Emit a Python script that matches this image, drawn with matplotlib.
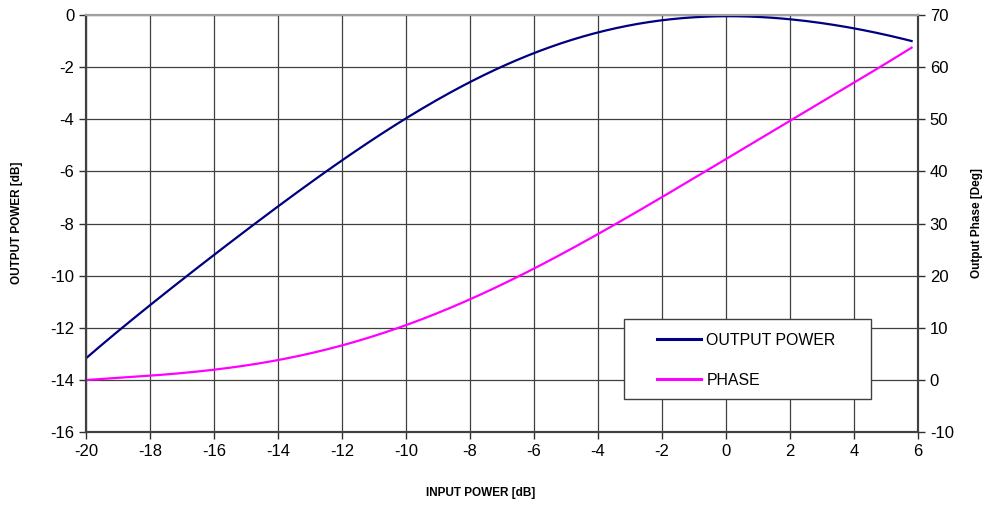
import numpy as np
import matplotlib
matplotlib.use('Agg')
import matplotlib.pyplot as plt
from matplotlib.patches import Rectangle
from numpy.polynomial import polynomial as P

plt.rcParams['font.family'] = ['Liberation Sans', 'DejaVu Sans']
plt.rcParams['axes.unicode_minus'] = False

# Data
input_power = [-20, -18, -16, -14, -12, -10, -8, -6, -4, -2, 0, 2, 4, 5.8]
output_power = [-13.17, -11.14, -9.22, -7.3, -5.6, -4.0, -2.55, -1.44, -0.68,
                -0.22, -0.03, -0.17, -0.51, -1.0]
phase = [0.0, 0.7, 2.0, 3.9, 6.6, 10.4, 15.4, 21.4, 28.1, 35.1, 42.2, 49.7,
         57.1, 63.7]

x_ticks = list(range(-20, 7, 2))
left_ticks = list(range(-16, 1, 2))
right_ticks = list(range(-10, 71, 10))

W, H = 987, 505
fig = plt.figure(figsize=(W / 100, H / 100), dpi=100)
ax = fig.add_axes([86 / W, 1 - 432 / H, (918 - 86) / W, (432 - 15) / H])

# smooth the curves through the read points
xs = np.linspace(input_power[0], input_power[-1], 300)
def smooth(xv, yv):
    c = P.polyfit(xv, yv, 6)
    return P.polyval(xs, c)

l1, = ax.plot(xs, smooth(input_power, output_power), color='#000080', lw=1.6,
              label='OUTPUT POWER')
ax.set_xlim(-20, 6)
ax.set_ylim(-16, 0)
ax.set_xticks(x_ticks)
ax.set_yticks(left_ticks)
ax.grid(True, color='#404040', lw=0.9)
ax.tick_params(direction='out', length=5, width=1, colors='#303030',
               labelsize=12, labelcolor='black')

ax2 = ax.twinx()
l2, = ax2.plot(xs, smooth(input_power, phase), color='#ff00ff', lw=1.6,
               label='PHASE')
ax2.set_ylim(-10, 70)
ax2.set_yticks(right_ticks)
ax2.tick_params(direction='out', length=5, width=1, colors='#303030',
                labelsize=12, labelcolor='black')

for a in (ax, ax2):
    for s in a.spines.values():
        s.set_color('#404040')
        s.set_linewidth(1.5)
    a.spines['top'].set_color('#a0a0a0')

fig.text(17 / W, 1 - 223 / H, 'OUTPUT POWER [dB]', rotation=90, fontsize=8.5,
         fontweight='bold', ha='center', va='center')
fig.text(977 / W, 1 - 223 / H, 'Output Phase [Deg]', rotation=90, fontsize=8.5,
         fontweight='bold', ha='center', va='center')
fig.text(481 / W, 1 - 493 / H, 'INPUT POWER [dB]', fontsize=8.5,
         fontweight='bold', ha='center', va='center')

# legend box
fig.patches.append(Rectangle((624 / W, 1 - 399 / H), (871 - 624) / W,
                             (399 - 319) / H, transform=fig.transFigure,
                             facecolor='white', edgecolor='#404040', lw=1,
                             zorder=5))
leg = fig.legend(handles=[l1, l2], loc='upper left', frameon=False,
                 bbox_to_anchor=(657 / W, 1 - 333 / H), borderpad=0,
                 borderaxespad=0, fontsize=11.4, handlelength=2.8,
                 handletextpad=0.32, labelspacing=1.56)
leg.set_zorder(6)
for line in leg.get_lines():
    line.set_linewidth(2.2)

fig.savefig('out.png', dpi=100)
